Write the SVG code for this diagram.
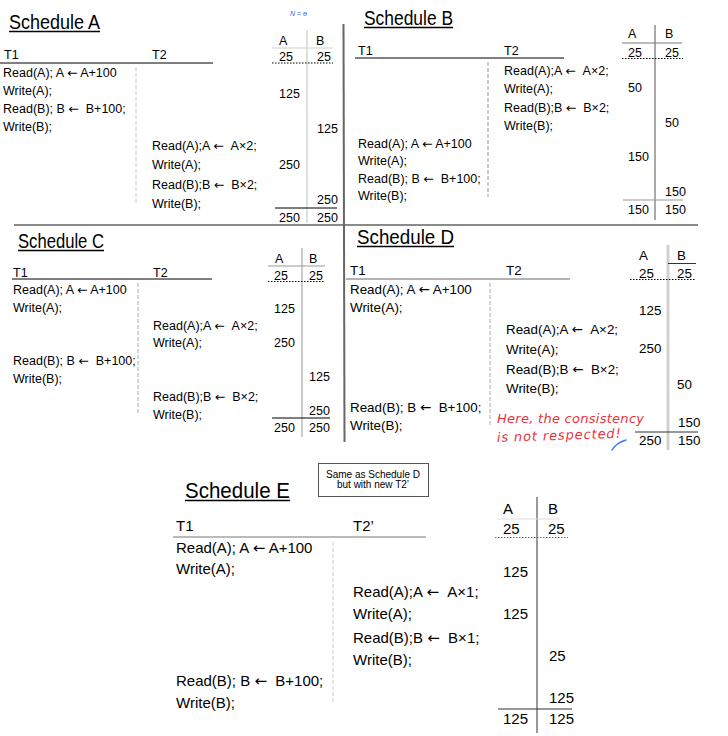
<svg xmlns="http://www.w3.org/2000/svg" width="728" height="736" viewBox="0 0 728 736">
<style>
text{font-family:"Liberation Sans",Arial,sans-serif;fill:#000;}
.ar{font-family:"DejaVu Sans",sans-serif;font-weight:normal;}
.t{font-size:12.5px;}
.d{font-size:13.4px;}
.e{font-size:15px;}
.title{font-size:20px;}
.ul{stroke:#000;stroke-width:1.3;}
.hl{stroke:#000;stroke-width:1;}
.dot{stroke:#000;stroke-width:1;stroke-dasharray:1.5 1.5;}
.sep{stroke:#c8c8c8;stroke-width:1;stroke-dasharray:4 2;}
.div{stroke:#8a8a8a;stroke-width:2;fill:none;}
.red{font-family:"DejaVu Sans",sans-serif;font-size:13px;fill:#e8333a;font-style:italic;}
.note{font-size:10px;}
</style>
<rect width="728" height="736" fill="#fff"/>
<g id="dividers">
<line x1="14" y1="225" x2="698" y2="225" class="div"/>
<line x1="343.5" y1="24" x2="344.5" y2="442" stroke="#666" stroke-width="2"/>
</g>
<g id="scheduleA">
<text class="title" x="9" y="29" textLength="91" lengthAdjust="spacingAndGlyphs">Schedule A</text>
<line x1="9" y1="31.5" x2="100" y2="31.5" class="ul"/>
<text x="290" y="16" font-size="7" font-style="italic" fill="#3a66ff" style="fill:#3a66ff">N = ɵ</text>
<text class="t" x="4" y="59">T1</text>
<text class="t" x="152" y="59">T2</text>
<line x1="0" y1="63" x2="213" y2="63" class="hl"/>
<line x1="136" y1="67" x2="136" y2="203" class="sep"/>
<text class="t" x="3" y="77">Read(A); A <tspan class="ar">←</tspan> A+100</text>
<text class="t" x="3" y="95">Write(A);</text>
<text class="t" x="3" y="113">Read(B); B <tspan class="ar">←</tspan> &#160;B+100;</text>
<text class="t" x="3" y="131">Write(B);</text>
<text class="t" x="152" y="150">Read(A);A <tspan class="ar">←</tspan> &#160;A×2;</text>
<text class="t" x="152" y="169">Write(A);</text>
<text class="t" x="152" y="189">Read(B);B <tspan class="ar">←</tspan> &#160;B×2;</text>
<text class="t" x="152" y="208">Write(B);</text>
<line x1="307" y1="30" x2="307" y2="223" stroke="#c0c0c0" stroke-width="1"/>
<text class="t" x="279" y="45">A</text>
<text class="t" x="316" y="45">B</text>
<line x1="272" y1="48" x2="333" y2="48" stroke="#d0d0d0" stroke-width="1"/>
<text class="t" x="279" y="61">25</text>
<text class="t" x="317" y="61">25</text>
<line x1="272" y1="63" x2="333" y2="63" class="dot"/>
<text class="t" x="279" y="98">125</text>
<text class="t" x="317" y="133">125</text>
<text class="t" x="279" y="169">250</text>
<text class="t" x="317" y="204">250</text>
<line x1="275" y1="208" x2="337" y2="208" class="hl"/>
<text class="t" x="279" y="222">250</text>
<text class="t" x="317" y="222">250</text>
</g>
<g id="scheduleB">
<text class="title" x="364" y="25" textLength="89" lengthAdjust="spacingAndGlyphs">Schedule B</text>
<line x1="364" y1="27.5" x2="453" y2="27.5" class="ul"/>
<text class="t" x="358" y="55">T1</text>
<text class="t" x="504" y="55">T2</text>
<line x1="355" y1="58" x2="564" y2="58" class="hl"/>
<line x1="488" y1="62" x2="488" y2="197" class="sep" style="stroke:#999"/>
<text class="t" x="504" y="75">Read(A);A <tspan class="ar">←</tspan> &#160;A×2;</text>
<text class="t" x="504" y="92.5">Write(A);</text>
<text class="t" x="504" y="111.5">Read(B);B <tspan class="ar">←</tspan> &#160;B×2;</text>
<text class="t" x="504" y="130">Write(B);</text>
<text class="t" x="358" y="148">Read(A); A <tspan class="ar">←</tspan> A+100</text>
<text class="t" x="358" y="165">Write(A);</text>
<text class="t" x="358" y="183">Read(B); B <tspan class="ar">←</tspan> &#160;B+100;</text>
<text class="t" x="358" y="200">Write(B);</text>
<line x1="655" y1="25" x2="655" y2="220" stroke="#555" stroke-width="1"/>
<text class="t" x="628" y="38">A</text>
<text class="t" x="665" y="38">B</text>
<line x1="622" y1="43" x2="682" y2="43" stroke="#777" stroke-width="1"/>
<text class="t" x="628" y="57">25</text>
<text class="t" x="665" y="57">25</text>
<line x1="622" y1="58.5" x2="683" y2="58.5" class="dot"/>
<text class="t" x="628" y="92">50</text>
<text class="t" x="665" y="127">50</text>
<text class="t" x="628" y="161">150</text>
<text class="t" x="665" y="196">150</text>
<line x1="623" y1="200" x2="683" y2="200" stroke="#999" stroke-width="1"/>
<text class="t" x="628" y="214">150</text>
<text class="t" x="665" y="214">150</text>
</g>
<g id="scheduleC">
<text class="title" x="18" y="248" textLength="86" lengthAdjust="spacingAndGlyphs">Schedule C</text>
<line x1="18" y1="250.5" x2="104" y2="250.5" class="ul"/>
<text class="t" x="13" y="277">T1</text>
<text class="t" x="153" y="277">T2</text>
<line x1="12" y1="279" x2="212" y2="279" class="hl"/>
<line x1="138" y1="283" x2="138" y2="415" class="sep" style="stroke:#aaa"/>
<text class="t" x="13" y="294">Read(A); A <tspan class="ar">←</tspan> A+100</text>
<text class="t" x="13" y="312">Write(A);</text>
<text class="t" x="13" y="365">Read(B); B <tspan class="ar">←</tspan> &#160;B+100;</text>
<text class="t" x="13" y="383">Write(B);</text>
<text class="t" x="153" y="330">Read(A);A <tspan class="ar">←</tspan> &#160;A×2;</text>
<text class="t" x="153" y="347">Write(A);</text>
<text class="t" x="153" y="401">Read(B);B <tspan class="ar">←</tspan> &#160;B×2;</text>
<text class="t" x="153" y="419">Write(B);</text>
<line x1="302" y1="248" x2="302" y2="437" stroke="#999" stroke-width="1"/>
<text class="t" x="275" y="263">A</text>
<text class="t" x="309" y="263">B</text>
<line x1="268" y1="266" x2="325" y2="266" stroke="#999" stroke-width="1"/>
<text class="t" x="274" y="280">25</text>
<text class="t" x="309" y="280">25</text>
<line x1="268" y1="281.5" x2="325" y2="281.5" class="dot"/>
<text class="t" x="274" y="313">125</text>
<text class="t" x="274" y="347">250</text>
<text class="t" x="309" y="381">125</text>
<text class="t" x="309" y="415">250</text>
<line x1="272" y1="418" x2="330" y2="418" class="hl"/>
<text class="t" x="274" y="432">250</text>
<text class="t" x="309" y="432">250</text>
</g>
<g id="scheduleD">
<text class="title" x="357" y="244" textLength="97" lengthAdjust="spacingAndGlyphs">Schedule D</text>
<line x1="357" y1="246.5" x2="454" y2="246.5" class="ul"/>
<text class="d" x="350" y="275">T1</text>
<text class="d" x="506" y="275">T2</text>
<line x1="346" y1="279" x2="570" y2="279" stroke="#666" stroke-width="1"/>
<line x1="490" y1="283" x2="490" y2="427" class="sep" style="stroke:#aaa"/>
<text class="d" x="350" y="294">Read(A); A <tspan class="ar">←</tspan> A+100</text>
<text class="d" x="350" y="312">Write(A);</text>
<text class="d" x="350" y="412">Read(B); B <tspan class="ar">←</tspan> &#160;B+100;</text>
<text class="d" x="350" y="430">Write(B);</text>
<text class="d" x="506" y="334">Read(A);A <tspan class="ar">←</tspan> &#160;A×2;</text>
<text class="d" x="506" y="354">Write(A);</text>
<text class="d" x="506" y="374">Read(B);B <tspan class="ar">←</tspan> &#160;B×2;</text>
<text class="d" x="506" y="393">Write(B);</text>
<line x1="668" y1="245" x2="668" y2="450" stroke="#d0d0d0" stroke-width="3"/>
<text class="d" x="639" y="260">A</text>
<text class="d" x="677" y="260">B</text>
<line x1="668" y1="263.5" x2="696" y2="263.5" stroke="#333" stroke-width="1"/>
<text class="d" x="639" y="278">25</text>
<text class="d" x="677" y="278">25</text>
<line x1="630" y1="279.5" x2="695" y2="279.5" class="dot"/>
<text class="d" x="639" y="315">125</text>
<text class="d" x="639" y="353">250</text>
<text class="d" x="677" y="389">50</text>
<text class="d" x="678" y="427">150</text>
<line x1="635" y1="432" x2="698" y2="432" stroke="#333" stroke-width="1"/>
<text class="d" x="639" y="445">250</text>
<text class="d" x="678" y="445">150</text>
<text class="red" x="497" y="423" textLength="147">Here, the consistency</text>
<text class="red" x="497" y="442" transform="rotate(-2 497 442)" textLength="124">is not respected!</text>
</g>
<g id="scheduleE">
<text class="title" x="185" y="498" font-size="22" style="font-size:22px" textLength="105" lengthAdjust="spacingAndGlyphs">Schedule E</text>
<line x1="185" y1="500.5" x2="290" y2="500.5" class="ul"/>
<text class="e" x="176" y="531">T1</text>
<text class="e" x="353" y="531">T2’</text>
<line x1="173" y1="537" x2="426" y2="537" stroke="#777" stroke-width="1"/>
<line x1="333" y1="542" x2="333" y2="703" class="sep" style="stroke:#ccc"/>
<text class="e" x="176" y="553">Read(A); A <tspan class="ar">←</tspan> A+100</text>
<text class="e" x="176" y="574">Write(A);</text>
<text class="e" x="176" y="686">Read(B); B <tspan class="ar">←</tspan> &#160;B+100;</text>
<text class="e" x="176" y="708">Write(B);</text>
<text class="e" x="353" y="597">Read(A);A <tspan class="ar">←</tspan> &#160;A×1;</text>
<text class="e" x="353" y="619">Write(A);</text>
<text class="e" x="353" y="643">Read(B);B <tspan class="ar">←</tspan> &#160;B×1;</text>
<text class="e" x="353" y="665">Write(B);</text>
<line x1="537" y1="497" x2="537" y2="733" stroke="#333" stroke-width="1"/>
<text class="e" x="503" y="514">A</text>
<text class="e" x="548" y="514">B</text>
<line x1="497" y1="519" x2="560" y2="519" stroke="#ddd" stroke-width="1"/>
<text class="e" x="503" y="534">25</text>
<text class="e" x="548" y="534">25</text>
<line x1="495" y1="537.5" x2="568" y2="537.5" class="dot" style="stroke:#666"/>
<text class="e" x="503" y="577">125</text>
<text class="e" x="503" y="619">125</text>
<text class="e" x="549" y="661">25</text>
<text class="e" x="549" y="703">125</text>
<line x1="498" y1="709" x2="572" y2="709" stroke="#333" stroke-width="1"/>
<text class="e" x="503" y="724">125</text>
<text class="e" x="549" y="724">125</text>
</g>
<g id="note">
<rect x="318.5" y="463.5" width="110" height="33" fill="#fff" stroke="#555" stroke-width="1"/>
<text class="note" x="373" y="478" text-anchor="middle">Same as Schedule D</text>
<text class="note" x="373" y="488" text-anchor="middle">but with new T2’</text>
</g>
<g id="connectors">
<path d="M612 450 Q616 443 626 440" fill="none" stroke="#3a7bff" stroke-width="1.5" stroke-linecap="round"/>
</g>
</svg>
